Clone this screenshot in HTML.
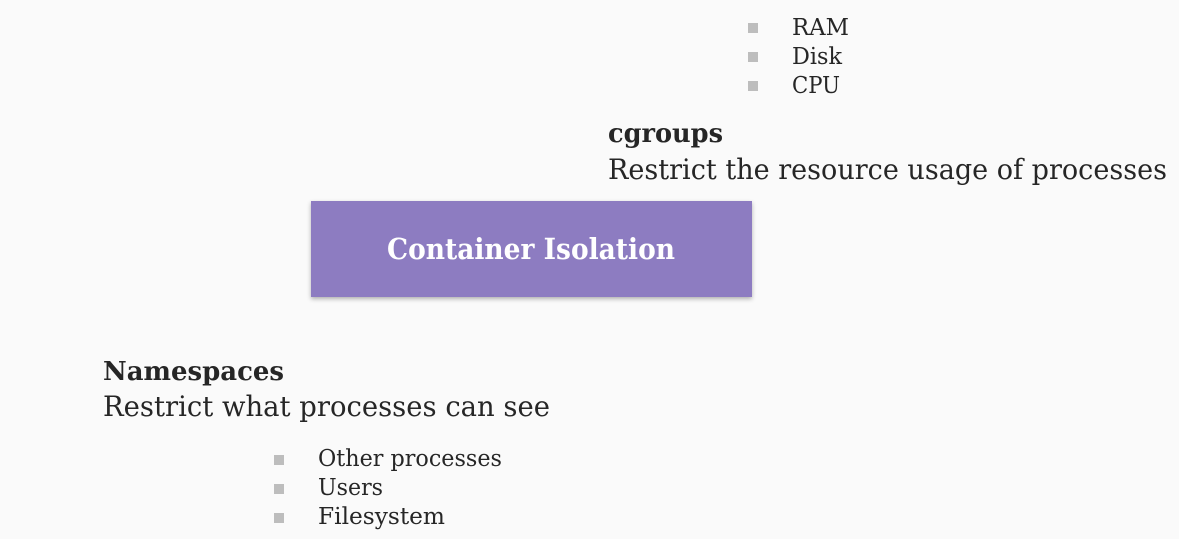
<!DOCTYPE html>
<html><head><meta charset="utf-8"><style>
html,body{margin:0;padding:0;background:#fafafa;}
svg{display:block;}
text{font-family:"DejaVu Serif","Liberation Serif",serif;fill:#262626;}
</style></head><body>
<svg width="1179" height="539" viewBox="0 0 1179 539" xmlns="http://www.w3.org/2000/svg">
<defs><filter id="sh" x="-5%" y="-10%" width="110%" height="130%"><feDropShadow dx="0" dy="2" stdDeviation="2" flood-color="#000" flood-opacity="0.3"/></filter></defs>
<rect x="0" y="0" width="1179" height="539" fill="#fafafa"/>
<g fill="#bdbdbd">
<rect x="748" y="23" width="10" height="10"/><rect x="748" y="52" width="10" height="10"/><rect x="748" y="81" width="10" height="10"/>
<rect x="274" y="455" width="10" height="10"/><rect x="274" y="484" width="10" height="10"/><rect x="274" y="513" width="10" height="10"/>
</g>
<text x="792" y="35" font-size="23" textLength="57" lengthAdjust="spacingAndGlyphs">RAM</text>
<text x="792" y="64" font-size="23" textLength="50" lengthAdjust="spacingAndGlyphs">Disk</text>
<text x="792" y="93" font-size="23" textLength="48" lengthAdjust="spacingAndGlyphs">CPU</text>
<text x="608" y="142" font-size="26" font-weight="bold" fill="#111" textLength="115" lengthAdjust="spacingAndGlyphs">cgroups</text>
<text x="608" y="179" font-size="28" textLength="559" lengthAdjust="spacingAndGlyphs">Restrict the resource usage of processes</text>
<rect x="311" y="201" width="441" height="96" fill="#8d7cc1" filter="url(#sh)"/>
<text x="531" y="259" font-size="29" font-weight="bold" fill="#fff" text-anchor="middle" textLength="288" lengthAdjust="spacingAndGlyphs" style="fill:#fff">Container Isolation</text>
<text x="103" y="380" font-size="26" font-weight="bold" fill="#111" textLength="181" lengthAdjust="spacingAndGlyphs">Namespaces</text>
<text x="103" y="416" font-size="28" textLength="447" lengthAdjust="spacingAndGlyphs">Restrict what processes can see</text>
<text x="318" y="466" font-size="23" textLength="184" lengthAdjust="spacingAndGlyphs">Other processes</text>
<text x="318" y="495" font-size="23" textLength="65" lengthAdjust="spacingAndGlyphs">Users</text>
<text x="318" y="524" font-size="23" textLength="127" lengthAdjust="spacingAndGlyphs">Filesystem</text>
</svg>
</body></html>
